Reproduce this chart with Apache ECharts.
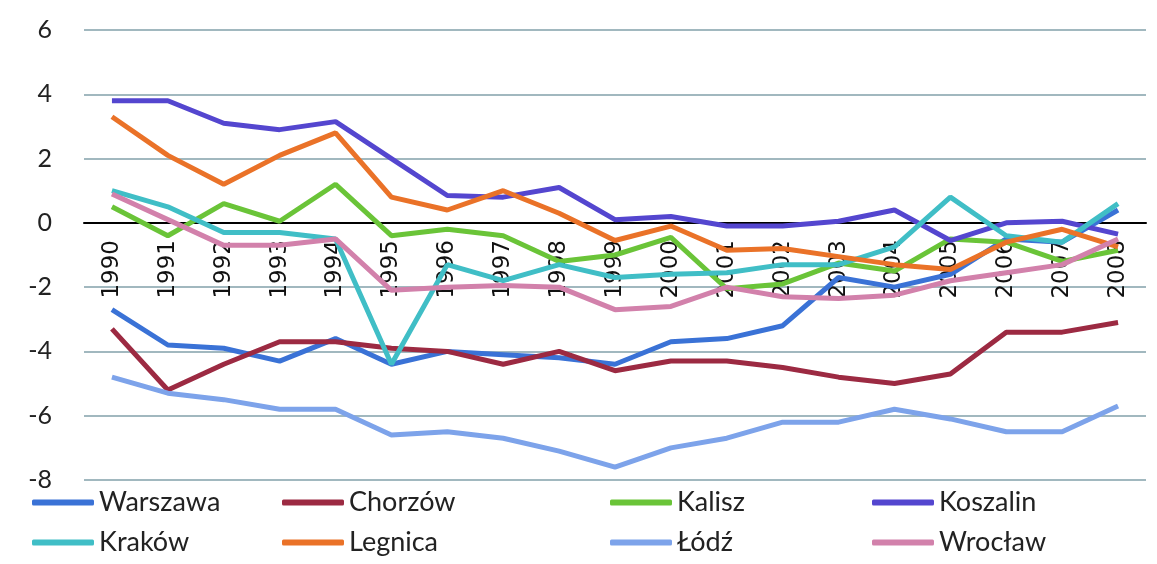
<!DOCTYPE html>
<html>
<head>
<meta charset="utf-8">
<script src="https://cdn.jsdelivr.net/npm/echarts@6/dist/echarts.min.js"></script>
<style>
html,body{margin:0;padding:0;background:#fff;}
#chart{width:1157px;height:564px;}
</style>
</head>
<body>
<div id="chart"></div>
<script>
const years = ['1990','1991','1992','1993','1994','1995','1996','1997','1998','1999','2000','2001','2002','2003','2004','2005','2006','2007','2008'];
const seriesNames = ['Warszawa','Chorzów','Kalisz','Koszalin','Kraków','Legnica','Łódź','Wrocław'];
const warszawa = [-2.7,-3.8,-3.9,-4.3,-3.6,-4.4,-4.0,-4.1,-4.2,-4.4,-3.7,-3.6,-3.2,-1.7,-2.0,-1.6,-0.5,-0.6,0.4];
const chorzow  = [-3.3,-5.2,-4.4,-3.7,-3.7,-3.9,-4.0,-4.4,-4.0,-4.6,-4.3,-4.3,-4.5,-4.8,-5.0,-4.7,-3.4,-3.4,-3.1];
const kalisz   = [0.5,-0.4,0.6,0.05,1.2,-0.4,-0.2,-0.4,-1.2,-1.0,-0.45,-2.05,-1.9,-1.25,-1.5,-0.5,-0.6,-1.2,-0.85];
const koszalin = [3.8,3.8,3.1,2.9,3.15,2.0,0.85,0.8,1.1,0.1,0.2,-0.1,-0.1,0.05,0.4,-0.55,0.0,0.05,-0.35];
const krakow   = [1.0,0.5,-0.3,-0.3,-0.5,-4.4,-1.3,-1.8,-1.3,-1.7,-1.6,-1.55,-1.3,-1.3,-0.75,0.8,-0.4,-0.6,0.6];
const legnica  = [3.3,2.1,1.2,2.1,2.8,0.8,0.4,1.0,0.3,-0.55,-0.1,-0.85,-0.8,-1.05,-1.3,-1.45,-0.6,-0.2,-0.75];
const lodz     = [-4.8,-5.3,-5.5,-5.8,-5.8,-6.6,-6.5,-6.7,-7.1,-7.6,-7.0,-6.7,-6.2,-6.2,-5.8,-6.1,-6.5,-6.5,-5.7];
const wroclaw  = [0.9,0.1,-0.7,-0.7,-0.5,-2.1,-2.0,-1.95,-2.0,-2.7,-2.6,-2.0,-2.3,-2.35,-2.25,-1.8,-1.55,-1.3,-0.5];
const yTicks = {min:-8, max:6, interval:2};

const seriesData = [warszawa, chorzow, kalisz, koszalin, krakow, legnica, lodz, wroclaw];
const colors = ['#3a72d6','#9c2a42','#6ac438','#5446cf','#40bec6','#ea7228','#7da3ea','#d281ab'];
const legendPos = [[32,489],[282,489],[610,489],[872,489],[32,529],[282,529],[610,529],[872,529]];

const chart = echarts.init(document.getElementById('chart'));
chart.setOption({
  animation:false,
  backgroundColor:'#fff',
  color: colors,
  grid:[
    {left:84,right:11,top:30,bottom:84,containLabel:false},
    // upper grid: its bottom edge sits on the zero line, used only for the year labels
    {left:84,right:11,top:30,bottom:342,containLabel:false}
  ],
  legend: seriesNames.map((n,i)=>({
    data:[n], left:legendPos[i][0], top:legendPos[i][1], padding:0,
    icon:'roundRect', itemWidth:62, itemHeight:6, itemGap:4,
    textStyle:{fontFamily:'Lato',fontSize:27,color:'#222'}
  })),
  xAxis:[
    {
      type:'category', data:years, boundaryGap:true, gridIndex:0,
      axisLine:{onZero:true,lineStyle:{color:'#000',width:2}},
      axisTick:{show:false}, axisLabel:{show:false}, splitLine:{show:false}
    },
    {
      type:'category', data:years, boundaryGap:true, gridIndex:1, position:'bottom',
      axisLine:{show:false}, axisTick:{show:false},
      axisLabel:{rotate:90,margin:18,fontFamily:'DejaVu Sans',fontSize:23,color:'#111'},
      splitLine:{show:false}
    }
  ],
  yAxis:[
    {
      type:'value', min:yTicks.min, max:yTicks.max, interval:yTicks.interval, gridIndex:0,
      axisLine:{show:false}, axisTick:{show:false},
      axisLabel:{margin:32,fontFamily:'Lato',fontSize:25,color:'#222'},
      splitLine:{lineStyle:{color:'#82a0aa',width:1.5}}
    },
    {
      type:'value', min:0, max:yTicks.max, gridIndex:1, show:false
    }
  ],
  series: seriesNames.map((n,i)=>({
    name:n, type:'line', data:seriesData[i], symbol:'none', xAxisIndex:0, yAxisIndex:0,
    lineStyle:{width:5,color:colors[i]}, itemStyle:{color:colors[i]}
  }))
});
</script>
</body>
</html>
